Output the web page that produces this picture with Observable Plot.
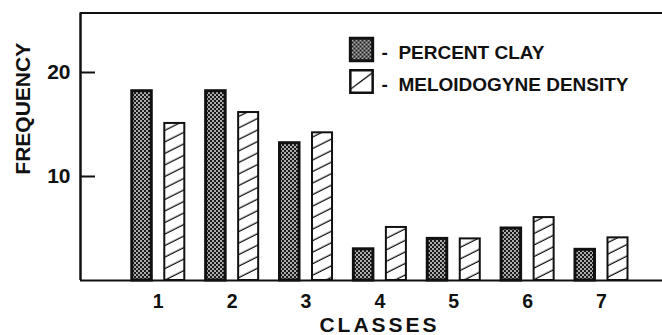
<!DOCTYPE html>
<html>
<head>
<meta charset="utf-8">
<script src="https://cdn.jsdelivr.net/npm/d3@7"></script>
<script src="https://cdn.jsdelivr.net/npm/@observablehq/plot@0.6"></script>
<style>
  html, body { margin: 0; padding: 0; background: #fff; }
</style>
</head>
<body>
<div id="chart"></div>
<script>
// ---- data ----
const classes = [1, 2, 3, 4, 5, 6, 7];
const percentClay = [18.2, 18.2, 13.2, 3.0, 4.0, 5.0, 2.95];
const meloidogyneDensity = [15.1, 16.15, 14.2, 5.1, 4.0, 6.05, 4.1];
const yTicks = [10, 20];
const seriesLabels = ["PERCENT CLAY", "MELOIDOGYNE DENSITY"];
const xTitle = "CLASSES";
const yTitle = "FREQUENCY";

// ---- build table ----
const rows = [];
classes.forEach((c, i) => {
  rows.push({cls: c, series: "clay", value: percentClay[i]});
  rows.push({cls: c, series: "melo", value: meloidogyneDensity[i]});
});

const xDomain = [-0.053, 7.826];
const yDomain = [0, 25.72];
// bar offsets (in class units) relative to class centre
const off = {clay: [-0.352, -0.088], melo: [0.088, 0.359]};
const ink = "#111";

const clayRows = rows.filter(d => d.series === "clay");
const meloRows = rows.filter(d => d.series === "melo");

const chart = Plot.plot({
  width: 662,
  height: 335,
  marginLeft: 80,
  marginRight: 0,
  marginTop: 12.5,
  marginBottom: 55,
  style: {fontFamily: "'Liberation Sans', Arial, Helvetica, sans-serif", fontWeight: "bold", color: ink, background: "#fff", overflow: "visible"},
  x: {type: "linear", domain: xDomain, range: [80, 662]},
  y: {domain: yDomain},
  marks: [
    Plot.rect(clayRows, {
      x1: d => d.cls + off.clay[0], x2: d => d.cls + off.clay[1],
      y1: d => 0, y2: "value",
      fill: "url(#clayPattern)", stroke: ink, strokeWidth: 3
    }),
    Plot.rect(meloRows, {
      x1: d => d.cls + off.melo[0], x2: d => d.cls + off.melo[1],
      y1: d => 0, y2: "value",
      fill: "url(#hatchPattern)", stroke: ink, strokeWidth: 2
    }),
    // frame lines
    Plot.ruleY([yDomain[0]], {stroke: ink, strokeWidth: 2}),
    Plot.ruleY([yDomain[1]], {stroke: ink, strokeWidth: 2}),
    Plot.ruleX([xDomain[0]], {stroke: ink, strokeWidth: 2.5}),
    // inward y ticks
    Plot.tickY(yTicks, {y: d => d, insetRight: 662 - 80 - 15, stroke: ink, strokeWidth: 2}),
    Plot.axisY({ticks: yTicks, tickSize: 0, tickPadding: 10, fontSize: 21, label: null}),
    Plot.axisX({ticks: classes, tickSize: 0, tickPadding: 13.5, fontSize: 19.5, label: null, tickFormat: d => String(d)}),
    // axis titles
    Plot.text([yTitle], {frameAnchor: "left", dx: -57.5, dy: -38, rotate: -90, textAnchor: "middle", lineAnchor: "middle", fontSize: 21, fill: ink}),
    Plot.text([xTitle], {frameAnchor: "bottom", dx: 8, dy: 37, textAnchor: "middle", lineAnchor: "top", fontSize: 21, fill: ink}),
    // legend
    Plot.dot([seriesLabels[0]], {frameAnchor: "top-left", dx: 281, dy: 36.5, symbol: "square", r: 12.6, fill: "url(#clayPattern)", stroke: ink, strokeWidth: 3}),
    Plot.dot([seriesLabels[1]], {frameAnchor: "top-left", dx: 281, dy: 68.5, symbol: "square", r: 12.6, fill: "url(#legendHatch)", stroke: ink, strokeWidth: 2.5}),
    Plot.text([seriesLabels[0]], {frameAnchor: "top-left", dx: 301, dy: 39.5, text: d => "-\u00a0\u00a0" + d, textAnchor: "start", lineAnchor: "middle", fontSize: 19, fill: ink}),
    Plot.text([seriesLabels[1]], {frameAnchor: "top-left", dx: 301, dy: 72, text: d => "-\u00a0\u00a0" + d, textAnchor: "start", lineAnchor: "middle", fontSize: 19, fill: ink})
  ]
});

// patterns
const svg = d3.select(chart);
const defs = svg.insert("defs", ":first-child");
const cp = defs.append("pattern").attr("id", "clayPattern").attr("patternUnits", "userSpaceOnUse").attr("width", 4).attr("height", 4);
cp.append("rect").attr("width", 4).attr("height", 4).attr("fill", "#1a1a1a");
cp.append("rect").attr("x", 0.2).attr("y", 0.2).attr("width", 1.6).attr("height", 1.6).attr("fill", "#fff");
cp.append("rect").attr("x", 2.2).attr("y", 2.2).attr("width", 1.6).attr("height", 1.6).attr("fill", "#fff");

const hp = defs.append("pattern").attr("id", "hatchPattern").attr("patternUnits", "userSpaceOnUse")
  .attr("width", 10).attr("height", 10.3).attr("patternTransform", "rotate(-26.6)");
hp.append("rect").attr("width", 10).attr("height", 10.3).attr("fill", "#fff");
hp.append("line").attr("x1", 0).attr("y1", 5).attr("x2", 10).attr("y2", 5).attr("stroke", ink).attr("stroke-width", 1.3);

const lh = defs.append("pattern").attr("id", "legendHatch").attr("patternUnits", "objectBoundingBox")
  .attr("patternContentUnits", "objectBoundingBox").attr("width", 1).attr("height", 1);
lh.append("rect").attr("width", 1).attr("height", 1).attr("fill", "#fff");
lh.append("line").attr("x1", 0).attr("y1", 0.85).attr("x2", 1).attr("y2", 0.1).attr("stroke", ink).attr("stroke-width", 0.06);

// letter spacing of the x title
svg.selectAll("text").each(function() {
  if (this.textContent === xTitle) d3.select(this).attr("letter-spacing", "3px");
});

document.getElementById("chart").appendChild(chart);
</script>
</body>
</html>
